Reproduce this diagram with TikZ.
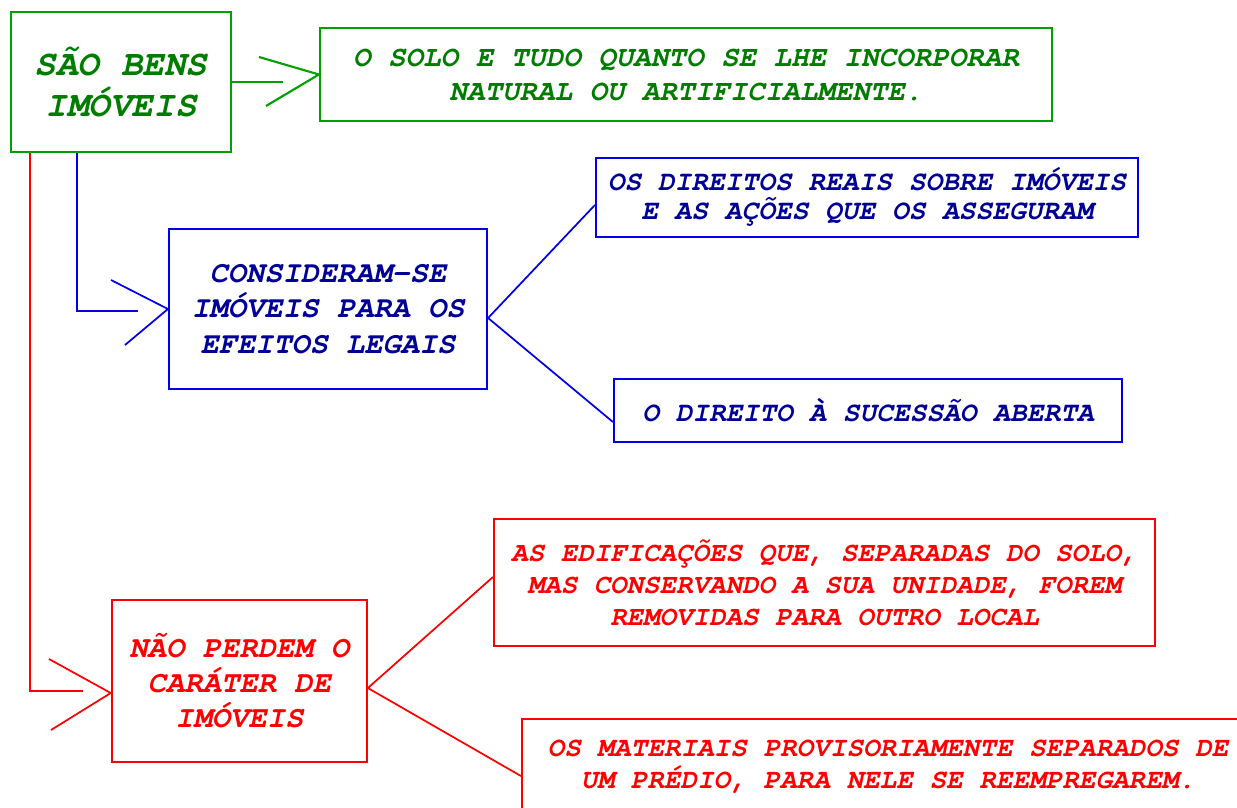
\documentclass[tikz,border=0pt]{standalone}
\usepackage{fontspec}
\setmonofont{TeX Gyre Cursor}
\definecolor{gline}{RGB}{0,160,0}
\definecolor{gtext}{RGB}{0,125,0}
\definecolor{bline}{RGB}{0,0,235}
\definecolor{btext}{RGB}{0,0,150}
\definecolor{rline}{RGB}{255,0,0}
\definecolor{rtext}{RGB}{255,0,0}
\tikzset{
  boxbase/.style={draw, line width=1.6pt, rectangle, inner sep=0pt, align=center,
    font=\ttfamily\bfseries\itshape},
  gbox/.style={boxbase, draw=gline, text=gtext},
  bbox/.style={boxbase, draw=bline, text=btext},
  rbox/.style={boxbase, draw=rline, text=rtext},
  gcon/.style={draw=gline, line width=1.6pt},
  bcon/.style={draw=bline, line width=1.3pt},
  rcon/.style={draw=rline, line width=1.3pt},
}
\begin{document}
\begin{tikzpicture}[x=0.75pt,y=-0.75pt]
\useasboundingbox (0,0) rectangle (1237,807);
\clip (0,0) rectangle (1237,807);
% boxes
\node[gbox, minimum width=220*0.75pt, minimum height=140*0.75pt, font=\ttfamily\bfseries\itshape\fontsize{27}{30.75}\selectfont]
  (B1) at (121,82) {SÃO BENS\\IMÓVEIS};
\node[gbox, minimum width=732*0.75pt, minimum height=93*0.75pt, font=\ttfamily\bfseries\itshape\fontsize{21.9}{25.5}\selectfont]
  (B2) at (686,74.5) {O SOLO E TUDO QUANTO SE LHE INCORPORAR\\NATURAL OU ARTIFICIALMENTE.};
\node[bbox, minimum width=318*0.75pt, minimum height=160*0.75pt, font=\ttfamily\bfseries\itshape\fontsize{22.75}{26.6}\selectfont]
  (B3) at (328,309) {CONSIDERAM-SE\\IMÓVEIS PARA OS\\EFEITOS LEGAIS};
\node[bbox, minimum width=542*0.75pt, minimum height=79*0.75pt, font=\ttfamily\bfseries\itshape\fontsize{20.9}{21.75}\selectfont]
  (B4) at (867,197.5) {OS DIREITOS REAIS SOBRE IMÓVEIS\\E AS AÇÕES QUE OS ASSEGURAM};
\node[bbox, minimum width=508*0.75pt, minimum height=63*0.75pt, font=\ttfamily\bfseries\itshape\fontsize{20.9}{24}\selectfont]
  (B5) at (868,410.5) {O DIREITO À SUCESSÃO ABERTA};
\node[rbox, minimum width=255*0.75pt, minimum height=162*0.75pt, font=\ttfamily\bfseries\itshape\fontsize{22.9}{26.25}\selectfont]
  (B6) at (239.3,681) {NÃO PERDEM O\\CARÁTER DE\\IMÓVEIS};
\node[rbox, minimum width=661*0.75pt, minimum height=127*0.75pt, font=\ttfamily\bfseries\itshape\fontsize{20.6}{24}\selectfont]
  (B7) at (824.5,582.5) {AS EDIFICAÇÕES QUE, SEPARADAS DO SOLO,\\MAS CONSERVANDO A SUA UNIDADE, FOREM\\REMOVIDAS PARA OUTRO LOCAL};
\node[rbox, minimum width=732*0.75pt, minimum height=96*0.75pt, font=\ttfamily\bfseries\itshape\fontsize{20.75}{24}\selectfont]
  (B8) at (888,767) {OS MATERIAIS PROVISORIAMENTE SEPARADOS DE\\UM PRÉDIO, PARA NELE SE REEMPREGAREM.};
% green connector
\coordinate (g1) at (283,82);
\coordinate (g2) at (259,57);
\coordinate (g3) at (266,106);
\path[gcon] (B1.east) -- (g1);
\path[gcon] (g2) -- (B2.west) -- (g3);
% blue connector
\coordinate (bc) at (77,311);
\coordinate (be) at (138,311);
\coordinate (b2) at (111,280);
\coordinate (b3) at (125,345);
\path[bcon] (B1.south -| bc) -- (bc) -- (be);
\path[bcon] (b2) -- (B3.west) -- (b3);
\path[bcon] (B4.west |- 0,205) -- (B3.east |- 0,318) -- (B5.west |- 0,422);
% red connector
\coordinate (rc) at (30,691);
\coordinate (re) at (83,691);
\coordinate (r2) at (49,659);
\coordinate (r3) at (51,730);
\path[rcon] (B1.south -| rc) -- (rc) -- (re);
\path[rcon] (r2) -- (B6.west |- 0,693) -- (r3);
\path[rcon] (B7.west |- 0,577) -- (B6.east |- 0,688) -- (B8.west |- 0,776);
\end{tikzpicture}
\end{document}
